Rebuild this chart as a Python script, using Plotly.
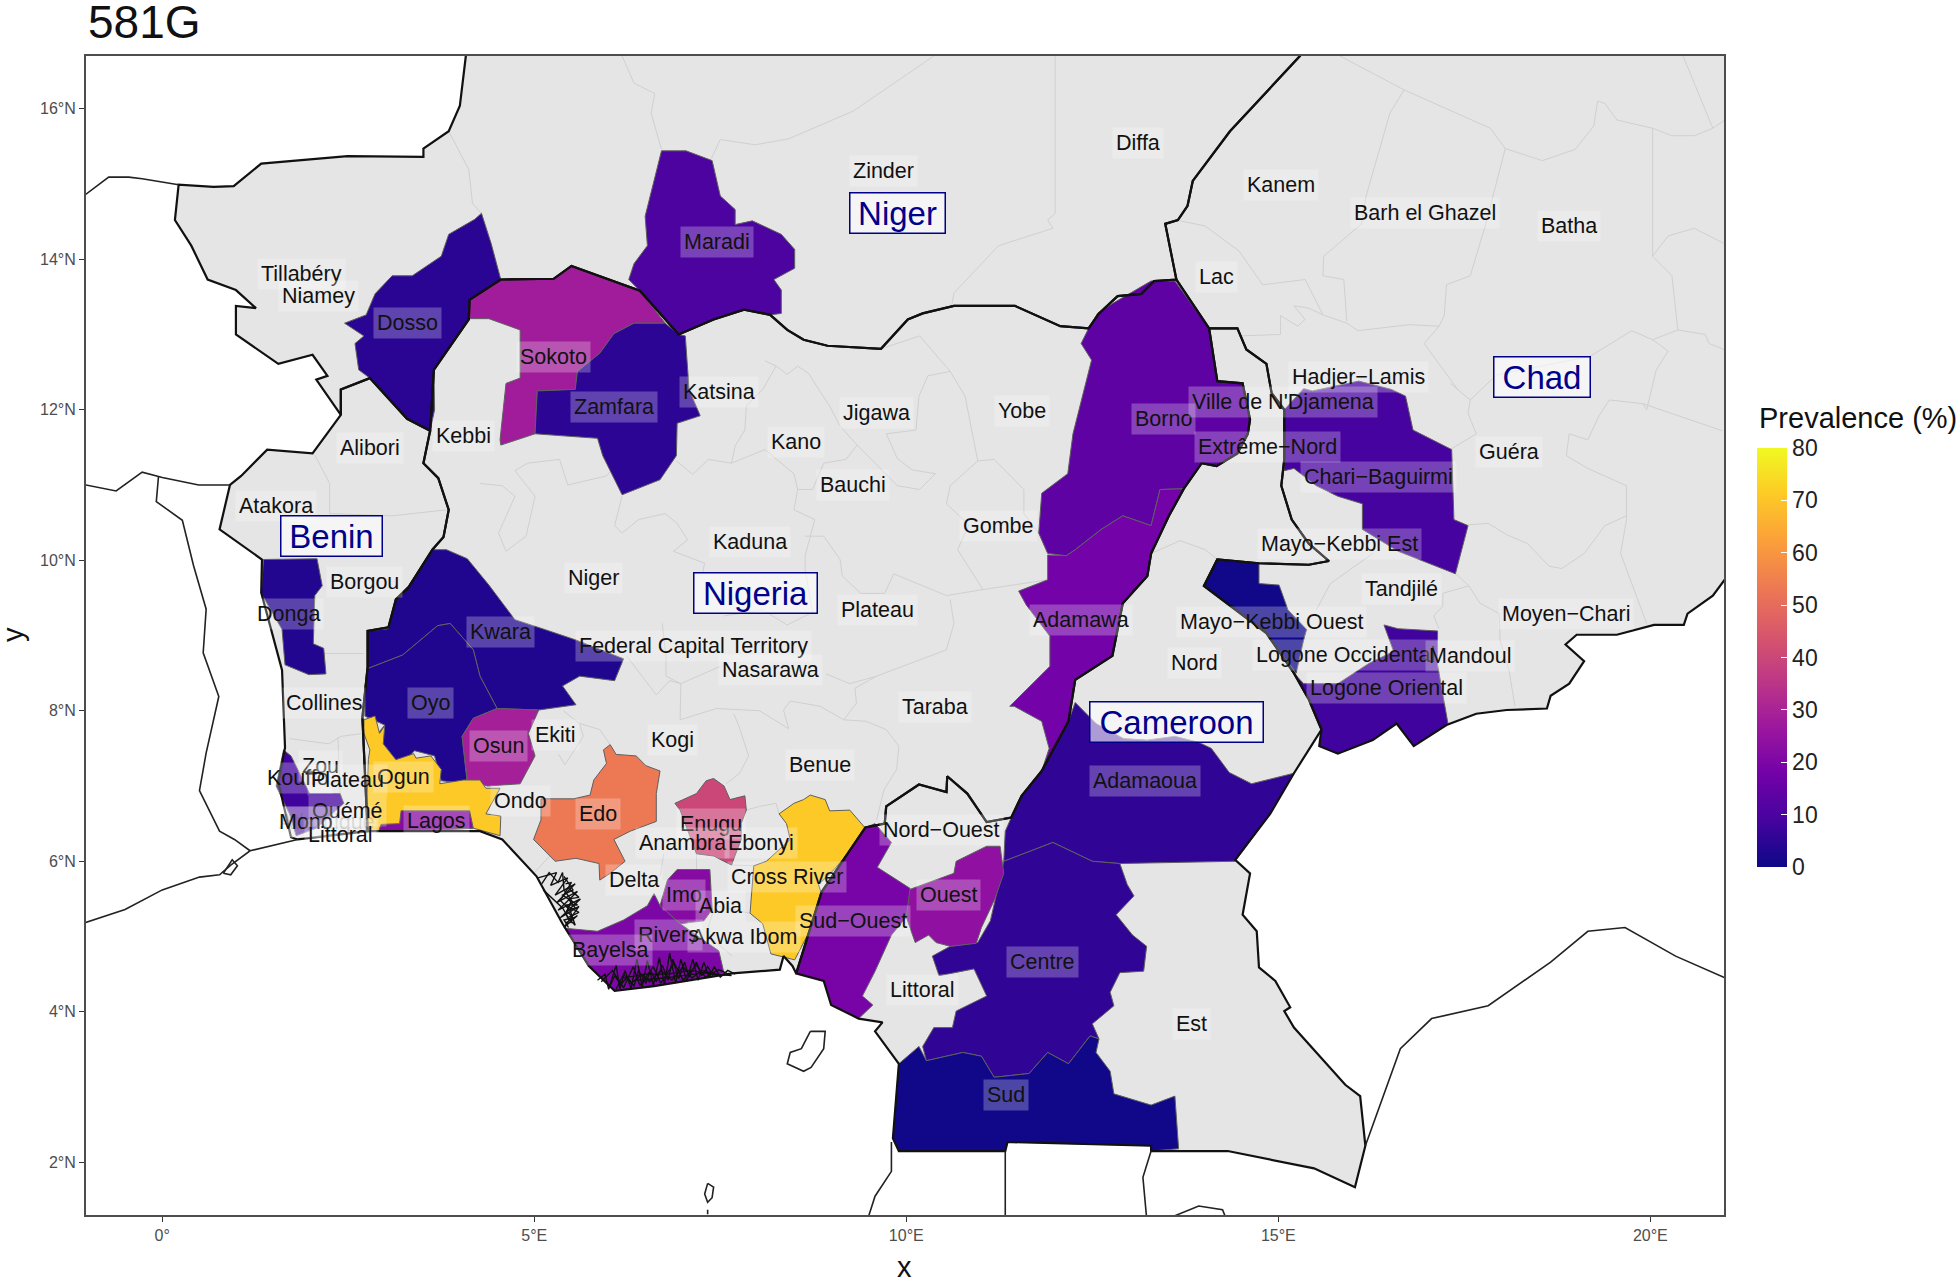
import plotly.graph_objects as go
from plotly.colors import sample_colorscale

# ---------- shared country borders (lon, lat) ----------
NIGER_NIGERIA_BORDER = [(3.60,11.72),(3.65,12.53),(4.12,13.20),(4.13,13.46),(4.55,13.73),(5.26,13.74),(5.50,13.91),(6.18,13.66),(6.42,13.58),(6.94,13.00),(7.41,13.20),(7.82,13.33),(8.17,13.26),(8.40,13.06),(8.62,12.93),(8.94,12.85),(9.66,12.81),(10.02,13.20),(10.22,13.28),(10.64,13.38),(11.46,13.38),(12.07,13.11),(12.45,13.08),(12.59,13.28),(12.84,13.51),(13.16,13.54),(13.33,13.71),(13.63,13.73)]
NIGER_WEST = [(4.15,17.0),(4.08,16.70),(4.00,16.04),(3.85,15.70),(3.51,15.47),(3.51,15.36),(2.49,15.37),(1.33,15.27),(0.96,14.97),(0.69,14.96),(0.22,14.99),(0.17,14.52),(0.39,14.18),(0.61,13.73),(0.99,13.59),(1.26,13.35),(0.99,13.38),(0.99,13.00),(1.56,12.61),(2.02,12.73),(2.22,12.45),(2.07,12.40),(2.40,11.93),(2.40,12.27),(2.79,12.42),(3.29,11.88)]
NIGER_CHAD_BORDER = [(13.63,13.73),(13.48,14.47),(13.65,14.52),(13.78,14.71),(13.85,15.04),(14.35,15.70),(15.29,16.70),(15.50,17.0)]
NIGERIA_CAMEROON_BORDER = [(14.07,13.08),(14.18,12.38),(14.52,12.35),(14.62,11.87),(14.59,11.68),(14.45,11.42),(14.17,11.25),(13.97,11.29),(13.73,10.95),(13.53,10.59),(13.29,10.09),(13.24,9.79),(12.91,9.43),(12.77,8.73),(12.27,8.41),(12.18,7.86),(11.82,7.20),(11.55,6.87),(11.41,6.58),(11.08,6.52),(10.82,6.90),(10.55,7.13),(10.54,6.92),(10.17,7.02),(9.73,6.73),(9.71,6.50),(9.45,6.45),(8.86,5.59),(8.52,4.51)]
NIGERIA_COAST = [(8.47,4.61),(8.35,4.74),(8.30,4.56),(7.66,4.51),(6.61,4.34),(6.08,4.28),(5.73,4.61),(5.38,5.17),(5.03,5.80),(4.57,6.29),(4.27,6.40),(2.76,6.40)]
BENIN_NIGERIA_BORDER = [(2.76,6.40),(2.69,7.91),(2.76,8.58),(2.76,9.06),(3.04,9.11),(3.14,9.48),(3.31,9.64),(3.63,10.14),(3.78,10.31),(3.85,10.67),(3.71,11.09),(3.51,11.29),(3.60,11.72)]
BENIN_WEST = [(1.82,6.29),(1.73,6.32),(1.56,7.05),(1.65,7.51),(1.61,8.54),(1.33,9.57),(1.34,10.01),(0.77,10.41),(0.91,11.00),(1.06,11.12),(1.41,11.47),(2.02,11.42),(2.40,11.93),(2.40,12.27),(2.79,12.42),(3.29,11.88),(3.60,11.72)]
CAMEROON_CHAD_BORDER = [(14.07,13.08),(14.45,13.08),(14.57,12.80),(14.84,12.61),(14.91,12.22),(15.08,12.00),(15.08,11.34),(15.04,10.99),(15.18,10.54),(15.41,10.22),(15.68,9.99),(15.41,9.94),(14.74,9.96),(14.18,10.01),(14.00,9.66),(14.84,9.03),(15.21,8.50),(15.41,8.15),(15.58,7.75)]
CAMEROON_SOUTH = [(15.21,7.17),(14.89,6.63),(14.42,6.02),(14.62,5.84),(14.52,5.29),(14.71,5.07),(14.74,4.59),(14.96,4.41),(15.16,4.06),(15.08,4.01),(15.21,3.79),(15.90,3.03),(16.10,2.88),(16.17,2.22),(16.03,1.67),(15.48,1.92),(14.84,2.05),(14.32,2.15),(13.29,2.15),(13.29,2.22),(11.36,2.27),(11.33,2.15),(9.90,2.15),(9.82,2.32),(9.90,3.31),(9.58,3.74),(9.68,3.86),(9.36,3.91),(8.99,4.09),(8.89,4.41),(8.52,4.51)]
CHAD_SOUTH = [(15.55,7.53),(15.80,7.43),(16.27,7.61),(16.59,7.83),(16.82,7.53),(17.26,7.81),(17.66,7.96),(18.07,8.01),(18.61,8.03),(18.66,8.20),(18.91,8.36),(19.11,8.66),(18.86,8.88),(19.01,9.01),(19.55,9.01),(20.05,9.14),(20.45,9.14),(20.50,9.29),(20.84,9.53),(21.05,9.81),(21.5,9.81),(21.5,17.0)]

# ---------- other countries' borders, lines only ----------
OTHER_BORDERS = {
    "mali_burkina": [(-1.30,14.60),(-1.03,14.86),(-0.72,15.09),(-0.45,15.09),(-0.27,15.07),(0.22,14.99)],
    "burkina_south": [(-1.30,11.00),(-1.03,11.00),(-0.62,10.92),(-0.27,11.17),(0.00,11.10),(0.49,11.00),(0.91,11.00)],
    "togo_ghana": [(-0.05,11.12),(-0.08,10.78),(0.27,10.53),(0.42,9.93),(0.59,9.35),(0.55,8.77),(0.76,8.19),(0.59,7.44),(0.50,6.94),(0.77,6.40),(0.97,6.29),(1.18,6.14)],
    "west_coast": [(-1.30,5.10),(-1.03,5.19),(-0.50,5.36),(0.00,5.62),(0.50,5.79),(0.77,5.82),(0.92,5.95),(1.18,6.14),(1.82,6.29)],
    "volta": [(0.82,5.84),(0.94,6.02),(1.01,5.94),(0.92,5.82),(0.82,5.84)],
    "eq_guinea": [(9.80,2.27),(9.80,1.88),(9.58,1.55),(9.45,1.15)],
    "gabon_north": [(11.33,2.15),(11.33,1.15)],
    "gabon_congo": [(13.29,2.15),(13.18,1.80),(13.24,1.15)],
    "congo_bit": [(13.61,1.20),(13.61,1.29),(13.93,1.42),(14.25,1.37),(14.32,1.20)],
    "car_congo": [(16.17,2.22),(16.64,3.51),(17.06,3.91),(17.82,4.08),(18.66,4.66),(19.16,5.07),(19.66,5.12),(20.34,4.74),(21.10,4.41)],
    "bioko": [(8.71,3.74),(8.91,3.74),(8.89,3.51),(8.72,3.26),(8.62,3.21),(8.40,3.31),(8.44,3.46),(8.59,3.51),(8.71,3.74)],
    "principe": [(7.33,1.72),(7.41,1.67),(7.39,1.53),(7.33,1.47),(7.29,1.58),(7.33,1.72)],
    "rock": [(7.33,1.37),(7.33,1.31)],
}
DELTA_CREEKS = {
    "west_a": [(5.05,5.78),(5.3,5.85),(5.22,5.68),(5.45,5.78),(5.28,5.55),(5.55,5.7),(5.3,5.45),(5.58,5.6),(5.32,5.35),(5.62,5.5),(5.35,5.25),(5.6,5.4),(5.4,5.12),(5.58,5.28),(5.42,5.18)],
    "west_b": [(5.1,5.7),(5.2,5.85),(5.32,5.72),(5.38,5.85),(5.4,5.62),(5.5,5.48),(5.42,5.3),(5.5,5.18),(5.38,5.38),(5.25,5.5),(5.12,5.62)],
    "west_c": [(5.4,5.8),(5.52,5.62),(5.38,5.55),(5.58,5.42),(5.42,5.42),(5.6,5.32),(5.45,5.25),(5.55,5.15),(5.48,5.35),(5.35,5.48),(5.5,5.72),(5.42,5.7)],
    "west_d": [(5.45,5.65),(5.6,5.52),(5.46,5.5),(5.55,5.38),(5.44,5.34),(5.52,5.25),(5.4,5.22),(5.46,5.12)],
    "south_a": [(5.85,4.42),(5.95,4.5),(6.0,4.3),(6.1,4.62),(6.15,4.3),(6.22,4.55),(6.3,4.31),(6.38,4.7),(6.45,4.33),(6.52,4.68),(6.6,4.35),(6.68,4.72),(6.75,4.36),(6.82,4.78),(6.9,4.38),(6.97,4.7),(7.05,4.4),(7.13,4.7),(7.2,4.42),(7.28,4.66),(7.35,4.46),(7.42,4.6),(7.5,4.46),(7.6,4.55),(7.7,4.5)],
    "south_b": [(5.9,4.4),(6.05,4.55),(6.2,4.32),(6.33,4.6),(6.42,4.35),(6.6,4.6),(6.7,4.38),(6.88,4.65),(7.0,4.42),(7.18,4.62),(7.3,4.46),(7.48,4.56),(7.65,4.48),(7.4,4.5),(7.1,4.55),(6.8,4.5),(6.5,4.5),(6.2,4.45)],
    "south_c": [(6.02,4.35),(6.08,4.48),(6.16,4.36),(6.25,4.46),(6.34,4.34),(6.4,4.55),(6.5,4.38),(6.56,4.55),(6.64,4.4),(6.72,4.62),(6.8,4.42),(6.86,4.7),(6.94,4.44),(7.02,4.66),(7.08,4.46),(7.18,4.66),(7.25,4.48),(7.33,4.6),(7.4,4.48)],
    "south_d": [(6.1,4.3),(6.2,4.5),(6.3,4.38),(6.45,4.5),(6.55,4.4),(6.7,4.55),(6.85,4.42),(7.0,4.6),(7.12,4.45),(7.25,4.55),(7.45,4.5),(7.3,4.52),(7.0,4.48),(6.75,4.45),(6.35,4.42)],
}

# ---------- internal administrative boundaries ----------
ADMIN_LINES = [
    [(3.85,15.70),(4.12,15.19),(4.17,14.74),(4.29,14.61)],
    [(6.18,16.70),(6.34,16.34),(6.62,16.20),(6.57,15.94),(6.71,15.46)],
    [(10.37,16.70),(9.29,15.97),(8.42,15.60),(7.97,15.52),(7.50,15.59),(7.38,15.34)],
    [(12.00,16.70),(12.00,14.61),(11.90,14.52),(11.97,14.41),(11.24,14.18),(10.64,13.55),(10.61,13.38)],
    [(15.83,16.70),(16.69,16.25),(17.85,15.74),(18.05,15.47),(18.55,15.31),(18.99,15.46),(19.24,15.77),(19.29,16.10),(19.39,16.07),(19.55,15.85),(20.03,15.74),(20.29,15.64),(20.59,15.64),(20.84,15.74),(21.0,15.85)],
    [(20.84,15.74),(20.44,16.70)],
    [(16.69,16.25),(16.50,15.94),(16.18,14.84),(16.12,14.47),(15.61,14.04),(15.60,13.78),(15.88,13.73),(15.92,13.18)],
    [(18.05,15.47),(17.78,14.44),(17.58,13.78),(17.26,13.66),(17.23,13.25),(17.16,13.11),(16.96,12.88),(17.16,12.61),(17.41,12.27)],
    [(13.68,14.51),(14.02,14.44),(14.47,14.11),(14.79,13.66),(15.36,13.73),(15.60,13.26),(15.92,13.15),(16.07,13.05),(16.76,13.13),(17.16,13.11)],
    [(14.47,12.98),(15.03,13.00),(15.03,13.25),(15.26,13.11),(15.36,13.20),(15.21,13.38),(15.41,13.35),(15.60,13.26)],
    [(20.03,15.74),(20.03,14.04),(20.29,13.78),(20.37,13.06),(20.03,12.93),(19.75,13.05),(19.19,12.71),(17.93,12.46),(17.58,12.13)],
    [(20.03,14.04),(20.24,14.31),(20.59,14.41),(20.99,14.21)],
    [(20.37,13.06),(20.74,13.00),(20.79,12.88),(20.99,12.80)],
    [(20.03,12.93),(20.24,12.78),(20.08,12.53),(19.95,12.00),(19.90,12.08)],
    [(19.90,12.08),(20.97,11.72)],
    [(19.90,12.08),(19.45,12.13),(19.31,11.92),(19.16,11.60),(18.91,11.68),(18.87,11.39),(19.16,11.22),(19.68,10.99),(19.68,10.54),(19.60,10.09),(19.95,9.16)],
    [(17.55,10.47),(17.82,10.49),(18.07,10.34),(18.35,10.22),(18.64,9.92),(18.81,9.89),(19.11,10.09),(19.39,10.46),(19.68,10.59)],
    [(17.31,11.47),(17.66,11.68),(17.55,11.95),(17.58,12.13),(17.31,12.35)],
    [(17.39,9.82),(17.56,9.66),(17.21,9.56),(17.21,9.39),(17.09,9.26),(17.16,9.09)],
    [(17.56,9.66),(17.71,9.43),(17.97,9.29),(17.98,8.94),(18.10,8.54),(18.18,8.06)],
    [(16.27,10.09),(15.70,9.69),(15.51,9.34)],
    [(13.29,10.09),(13.68,10.26),(14.02,10.14),(14.18,10.01)],
    [(2.05,11.40),(2.25,11.02),(2.25,10.62),(3.09,10.59),(3.82,10.67)],
    [(2.17,8.76),(2.71,8.76)],
    [(1.71,7.63),(2.24,7.56),(2.40,7.66),(2.71,7.70)],
    [(2.36,7.65),(2.39,6.90)],
    [(4.74,11.19),(4.91,11.29),(5.34,11.34),(5.45,11.00),(5.97,11.12),(6.04,11.20)],
    [(4.27,11.02),(4.57,10.99),(4.74,10.85),(4.52,10.36),(4.62,10.12),(4.89,10.32),(5.01,10.85),(4.74,11.19)],
    [(6.18,10.85),(6.08,10.46),(6.18,10.36),(6.40,10.54),(6.76,10.62),(6.92,10.49),(7.06,10.27),(6.87,10.12),(7.29,9.96),(7.26,9.82)],
    [(6.91,11.32),(7.13,11.14),(7.34,11.34),(7.65,11.29),(8.10,11.47),(8.49,11.15),(8.54,10.94),(8.49,10.67),(8.77,10.54),(8.64,10.06),(8.64,9.87)],
    [(8.10,12.65),(8.25,12.58),(8.07,12.27),(7.85,12.05),(7.83,11.73),(7.70,11.52),(7.65,11.29)],
    [(8.25,12.58),(8.40,12.47),(8.54,12.58),(8.69,12.48),(8.79,12.32),(8.97,12.05),(9.11,11.78),(9.34,11.53),(9.19,11.34),(8.89,11.29),(8.74,10.94),(8.54,10.94)],
    [(9.66,12.81),(10.18,12.98),(10.59,12.51),(10.29,12.45),(10.17,12.18),(10.13,11.73),(9.73,11.68),(9.88,11.35),(10.08,11.20),(10.39,11.15),(10.18,10.94),(9.88,10.99),(9.34,11.53)],
    [(10.59,12.51),(10.79,12.18),(10.96,11.32),(10.59,10.99),(10.54,10.75),(10.84,10.47),(10.69,10.14),(11.03,9.61),(10.54,9.53),(9.83,9.82),(9.71,9.56),(9.39,9.56),(9.14,9.79),(9.11,10.01),(8.89,10.32),(8.64,10.32)],
    [(10.96,11.32),(11.18,11.34),(11.58,10.94),(11.58,10.62),(11.78,10.36)],
    [(11.03,9.61),(11.90,9.74)],
    [(10.59,9.48),(10.64,9.16),(10.54,8.81),(9.60,8.46),(9.31,8.30),(9.33,8.10),(9.16,7.88),(9.46,7.86),(9.73,7.75),(9.90,7.53),(9.87,7.22),(9.70,6.95),(9.60,6.55)],
    [(8.92,8.49),(9.24,8.36),(9.60,8.46)],
    [(9.16,7.88),(8.84,8.06),(8.44,8.13),(8.35,8.01),(8.42,7.76),(8.03,8.00),(7.45,8.03),(6.96,7.88),(6.97,8.36),(7.50,8.59)],
    [(7.68,7.96),(7.75,7.80),(7.88,7.40),(7.76,7.17),(7.58,7.03)],
    [(6.24,8.73),(6.42,8.49),(6.64,8.21),(6.82,8.40),(6.97,8.36)],
    [(6.72,9.16),(6.77,8.73),(6.77,8.46),(6.97,8.36)],
    [(7.55,9.26),(8.07,9.34),(8.40,9.14),(8.74,9.31),(8.64,9.87)],
    [(5.39,8.00),(5.61,7.83),(5.88,7.75),(6.02,7.55)],
    [(5.33,7.42),(5.41,7.28),(5.66,7.66),(5.61,7.83)],
    [(5.21,6.07),(4.99,5.84)],
    [(6.74,6.10),(6.69,5.80)],
    [(7.18,6.10),(7.18,5.89)],
    [(7.85,6.68),(8.03,6.73),(8.25,6.77),(8.29,6.63)],
    [(7.90,5.31),(7.43,5.41),(7.31,5.04),(7.66,4.74)],
    [(7.95,5.94),(7.65,5.95)],
]

# ---------- regions with a prevalence ----------
MARADI = [(6.71,15.44),(7.04,15.44),(7.39,15.31),(7.50,14.84),(7.70,14.66),(7.70,14.46),(7.93,14.51),(8.32,14.33),(8.50,14.13),(8.50,13.88),(8.22,13.73),(8.32,13.59),(8.32,13.28),(8.17,13.26),(7.82,13.33),(7.41,13.20),(6.94,13.00),(6.42,13.58),(6.27,13.73),(6.34,13.94),(6.52,14.18),(6.49,14.57)]
DOSSO = [(4.29,14.61),(4.42,14.21),(4.55,13.73),(4.13,13.46),(4.12,13.20),(3.65,12.53),(3.66,12.00),(3.60,11.72),(3.29,11.88),(2.79,12.42),(2.64,12.53),(2.59,12.88),(2.71,12.98),(2.45,13.15),(2.74,13.26),(2.86,13.54),(3.09,13.78),(3.36,13.78),(3.75,14.04),(3.85,14.33),(4.20,14.53)]
SOKOTO = [(4.13,13.46),(4.55,13.73),(5.26,13.74),(5.50,13.91),(6.18,13.66),(6.42,13.58),(6.76,13.15),(6.34,13.15),(6.07,13.01),(5.88,12.75),(5.58,12.51),(5.55,12.27),(5.04,12.25),(5.01,11.68),(4.55,11.53),(4.54,11.60),(4.62,12.35),(4.81,12.42),(4.81,13.06),(4.39,13.21),(4.13,13.21)]
ZAMFARA = [(6.76,13.15),(6.94,13.00),(7.03,12.98),(7.08,12.27),(7.23,11.92),(6.92,11.82),(6.91,11.39),(6.69,11.07),(6.18,10.87),(5.92,11.39),(5.85,11.62),(5.43,11.65),(5.01,11.68),(5.04,12.25),(5.55,12.27),(5.58,12.51),(5.88,12.75),(6.07,13.01),(6.34,13.15)]
KWARA = [(3.82,10.14),(4.10,10.02),(4.39,9.67),(4.74,9.21),(5.14,9.08),(5.56,8.94),(6.20,8.69),(6.08,8.40),(5.61,8.46),(5.38,8.33),(5.56,8.08),(5.06,8.01),(4.50,8.03),(4.27,8.46),(4.18,8.81),(3.87,9.16),(3.70,9.13),(3.23,8.74),(2.76,8.56),(2.76,9.06),(3.04,9.09),(3.14,9.48),(3.31,9.66),(3.63,10.14)]
OYO = [(2.76,8.56),(3.23,8.74),(3.70,9.13),(3.87,9.16),(4.18,8.81),(4.27,8.46),(4.50,8.03),(4.18,7.90),(4.03,7.66),(4.10,7.03),(3.75,7.07),(3.66,7.40),(3.39,7.47),(3.28,7.35),(3.03,7.35),(2.87,7.66),(2.99,7.81),(2.72,7.93),(2.72,8.28)]
OSUN = [(5.06,8.01),(4.92,7.70),(5.01,7.40),(4.86,7.13),(4.81,7.03),(4.37,7.00),(4.10,7.08),(4.03,7.66),(4.18,7.90),(4.50,8.03)]
OGUN = [(2.71,7.88),(2.86,7.93),(2.92,7.70),(2.99,7.80),(2.97,7.56),(3.14,7.35),(3.38,7.43),(3.41,7.37),(3.61,7.40),(3.75,7.22),(3.73,7.03),(4.05,7.08),(4.27,7.08),(4.35,6.97),(4.54,6.97),(4.35,6.63),(4.55,6.60),(4.54,6.34),(4.18,6.44),(3.68,6.42),(3.38,6.40),(2.74,6.40),(2.77,7.35),(2.79,7.48),(2.71,7.70)]
LAGOS = [(2.94,6.49),(3.19,6.50),(3.21,6.67),(4.13,6.67),(4.18,6.44),(3.68,6.42),(2.91,6.40)]
DONGA = [(1.36,10.01),(2.08,10.02),(2.15,9.66),(2.05,9.53),(2.03,8.89),(2.17,8.83),(2.20,8.49),(1.97,8.48),(1.65,8.61),(1.61,9.08),(1.33,9.56)]
SOUTH_BENIN = [(1.63,7.48),(1.73,7.40),(1.98,6.90),(2.39,6.90),(2.44,6.77),(2.07,6.44),(1.80,6.34),(1.71,6.63),(1.53,7.00)]
EDO = [(6.02,7.55),(6.10,7.42),(6.37,7.40),(6.50,7.27),(6.69,7.20),(6.64,6.90),(6.64,6.53),(6.29,6.40),(6.07,6.29),(6.22,6.00),(6.02,5.84),(5.88,5.75),(5.87,5.97),(5.56,6.04),(5.28,6.00),(5.21,6.07),(4.99,6.29),(5.09,6.55),(5.09,6.83),(5.53,6.83),(5.75,6.88),(5.80,7.08),(5.97,7.30),(5.93,7.48)]
ENUGU = [(7.41,7.10),(7.55,7.00),(7.63,6.82),(7.83,6.87),(7.85,6.68),(7.78,6.50),(7.78,6.29),(7.71,6.10),(7.65,5.95),(7.41,6.07),(7.18,6.10),(6.96,6.68),(6.89,6.77),(7.18,6.90),(7.31,7.07)]
CROSS_RIVER = [(8.71,6.88),(8.91,6.82),(8.97,6.67),(9.24,6.68),(9.45,6.44),(9.38,6.30),(9.03,5.89),(8.82,5.69),(8.86,5.57),(8.71,5.09),(8.50,4.69),(8.18,4.77),(8.07,5.17),(7.90,5.31),(7.95,5.94),(8.12,6.00),(8.44,6.29),(8.39,6.50),(8.29,6.63),(8.49,6.77),(8.62,6.82)]
IMO = [(6.92,5.89),(7.36,5.89),(7.39,5.36),(7.28,5.21),(6.96,5.17),(6.69,5.41),(6.79,5.75)]
RIVERS = [(5.41,5.11),(5.85,5.07),(6.20,5.22),(6.52,5.41),(6.61,5.57),(6.69,5.41),(6.96,5.17),(7.48,4.81),(7.55,4.51),(6.61,4.34),(6.08,4.28),(5.73,4.61)]
BORNO = [(12.45,13.08),(12.57,13.28),(12.77,13.41),(13.29,13.71),(13.61,13.71),(14.07,13.08),(14.18,12.38),(14.52,12.35),(14.62,11.87),(14.59,11.68),(14.45,11.42),(14.17,11.25),(13.97,11.29),(13.73,10.95),(13.41,10.94),(13.29,10.46),(12.91,10.59),(12.62,10.41),(12.27,10.14),(12.15,10.06),(11.90,10.09),(11.78,10.36),(11.82,10.89),(12.17,11.15),(12.24,11.68),(12.49,12.66),(12.35,12.88)]
ADAMAWA = [(13.41,10.94),(13.73,10.95),(13.53,10.59),(13.29,10.09),(13.24,9.79),(12.91,9.43),(12.77,8.73),(12.27,8.41),(12.18,7.86),(11.82,7.20),(11.92,7.50),(11.82,7.86),(11.45,8.06),(11.39,8.06),(11.93,8.59),(11.93,8.99),(11.61,9.41),(11.51,9.59),(11.90,9.74),(11.90,10.07),(12.15,10.06),(12.27,10.14),(12.62,10.41),(12.91,10.59),(13.29,10.46)]
ADAMAOUA = [(12.27,8.11),(12.55,7.83),(12.92,7.63),(13.24,7.61),(13.61,7.66),(13.93,7.58),(14.10,7.50),(14.34,7.18),(14.64,7.03),(15.21,7.17),(14.89,6.63),(14.42,6.00),(12.87,5.97),(12.50,6.00),(11.97,6.25),(11.31,6.00),(11.33,6.40),(11.41,6.58),(11.55,6.87),(11.82,7.20),(12.18,7.86)]
CENTRE = [(11.31,6.00),(11.97,6.25),(12.50,6.00),(12.87,5.97),(12.97,5.69),(13.06,5.54),(12.82,5.29),(13.04,5.02),(13.23,4.87),(13.19,4.54),(12.87,4.52),(12.74,4.26),(12.79,4.08),(12.50,3.84),(12.59,3.64),(12.47,3.68),(12.18,3.31),(11.90,3.46),(11.65,3.18),(11.18,3.13),(11.01,3.41),(10.76,3.46),(10.27,3.35),(10.22,3.54),(10.37,3.79),(10.62,3.79),(10.67,4.01),(11.08,4.21),(10.91,4.57),(10.44,4.48),(10.35,4.74),(10.59,4.87),(10.96,4.92),(11.13,5.21),(11.23,5.64)]
SUD = [(10.27,3.35),(10.76,3.46),(11.01,3.41),(11.18,3.13),(11.65,3.18),(11.90,3.46),(12.18,3.31),(12.47,3.68),(12.59,3.64),(12.55,3.46),(12.74,3.21),(12.79,2.91),(13.29,2.76),(13.61,2.88),(13.66,2.18),(13.29,2.15),(13.29,2.22),(11.36,2.27),(11.33,2.15),(9.90,2.15),(9.82,2.32),(9.90,3.31),(10.17,3.54)]
OUEST = [(11.26,6.20),(11.31,5.84),(11.19,5.50),(11.01,5.12),(10.94,4.91),(10.59,4.87),(10.40,4.92),(10.30,5.02),(10.12,4.92),(10.00,5.26),(10.03,5.62),(10.64,5.84),(10.67,6.00),(11.08,6.20)]
SUD_OUEST = [(9.58,6.50),(9.80,6.25),(9.61,5.92),(9.90,5.74),(10.05,5.64),(10.00,5.26),(9.80,5.02),(9.58,4.54),(9.41,4.21),(9.55,4.09),(9.36,3.91),(8.99,4.09),(8.89,4.41),(8.52,4.51),(8.86,5.59),(9.45,6.45)]
CHARI_BAGUIRMI = [(15.08,12.00),(15.34,12.28),(15.46,12.25),(16.08,12.38),(16.52,12.27),(16.71,12.18),(16.81,11.73),(17.33,11.47),(17.36,10.54),(17.55,10.46),(17.38,9.82),(16.94,9.99),(16.61,10.12),(16.13,10.41),(16.13,10.75),(15.80,10.85),(15.51,10.99),(15.21,11.22),(15.08,11.19)]
MAYO_KEBBI_OUEST = [(14.17,10.01),(14.74,9.96),(14.74,9.69),(15.01,9.67),(15.13,9.34),(15.38,9.08),(15.34,8.94),(15.24,8.50),(14.84,9.03),(14.00,9.66)]
LOGONE_ORIENTAL = [(15.34,8.36),(15.80,8.36),(16.22,8.63),(16.55,8.79),(16.42,9.14),(16.61,9.09),(17.14,9.06),(17.14,8.61),(17.28,7.83),(16.82,7.53),(16.59,7.83),(16.27,7.61),(15.80,7.43),(15.55,7.53),(15.58,7.75),(15.41,8.15),(15.21,8.50)]

REGIONS = [DONGA, SOUTH_BENIN, DOSSO, MARADI, SOKOTO, ZAMFARA, KWARA, OYO, OSUN, OGUN, LAGOS, EDO, ENUGU, CROSS_RIVER, IMO, RIVERS, BORNO, ADAMAWA, ADAMAOUA, CENTRE, SUD, OUEST, SUD_OUEST, CHARI_BAGUIRMI, MAYO_KEBBI_OUEST, LOGONE_ORIENTAL]
PREVALENCE = [3.5, 8, 4.5, 10, 28, 5, 3, 3, 29, 71, 22, 53, 40, 71, 22, 20, 14, 18, 5.5, 5.5, 0.5, 24, 19, 9, 0.5, 8]

# ---------- labels ----------
REGION_LABELS = [("Tillabéry",1.87,13.81),("Niamey",2.10,13.51),("Dosso",3.29,13.15),("Maradi",7.46,14.23),("Zinder",9.70,15.17),("Diffa",13.11,15.54),("Kanem",15.04,14.99),("Barh el Ghazel",16.97,14.62),("Batha",18.91,14.44),("Lac",14.17,13.76),("Sokoto",5.26,12.70),("Zamfara",6.07,12.03),("Katsina",7.48,12.23),("Jigawa",9.60,11.95),("Yobe",11.55,11.98),("Kebbi",4.05,11.65),("Kano",8.52,11.57),("Alibori",2.79,11.49),("Bauchi",9.29,11.00),("Atakora",1.53,10.72),("Borno",13.45,11.88),("Ville de N'Djamena",15.06,12.10),("Extrême−Nord",14.86,11.50),("Hadjer−Lamis",16.08,12.43),("Chari−Baguirmi",16.35,11.10),("Guéra",18.10,11.44),("Mayo−Kebbi Est",15.82,10.21),("Kaduna",7.90,10.24),("Gombe",11.24,10.46),("Niger",5.80,9.76),("Tandjilé",16.66,9.62),("Borgou",2.72,9.71),("Donga",1.70,9.28),("Adamawa",12.35,9.21),("Plateau",9.61,9.34),("Moyen−Chari",18.86,9.29),("Mayo−Kebbi Ouest",14.91,9.18),("Kwara",4.55,9.04),("Federal Capital Territory",7.14,8.86),("Nasarawa",8.17,8.54),("Logone Occidental",15.90,8.74),("Mandoul",17.58,8.73),("Nord",13.87,8.64),("Logone Oriental",16.45,8.30),("Collines",2.17,8.10),("Oyo",3.61,8.10),("Taraba",10.39,8.05),("Ekiti",5.29,7.68),("Kogi",6.86,7.61),("Osun",4.52,7.53),("Benue",8.84,7.28),("Zou",2.12,7.27),("Ogun",3.24,7.12),("Kouffo",1.82,7.10),("Plateau",2.49,7.08),("Adamaoua",13.21,7.07),("Ondo",4.82,6.80),("Ouémé",2.49,6.67),("Edo",5.85,6.63),("Nord−Ouest",10.47,6.42),("Enugu",7.38,6.50),("Mono",1.93,6.52),("Lagos",3.68,6.53),("Littoral",2.40,6.35),("Anambra",6.99,6.24),("Ebonyi",8.05,6.24),("Delta",6.34,5.75),("Cross River",8.40,5.79),("Ouest",10.57,5.55),("Imo",7.01,5.55),("Abia",7.50,5.41),("Sud−Ouest",9.28,5.21),("Akwa Ibom",7.82,4.99),("Rivers",6.81,5.02),("Bayelsa",6.02,4.82),("Centre",11.83,4.66),("Littoral",10.22,4.29),("Est",13.83,3.84),("Sud",11.34,2.90)]
FAINT_LABELS = [("Atlantique",2.22,6.52)]
COUNTRY_LABELS = [("Niger",9.88,14.61,94),("Chad",18.55,12.43,95),("Benin",2.27,10.32,100),("Nigeria",7.97,9.57,122),("Cameroon",13.63,7.85,172)]
X_TICKS = [0, 5, 10, 15, 20]
X_TICK_TEXT = ["0°", "5°E", "10°E", "15°E", "20°E"]
Y_TICKS = [2, 4, 6, 8, 10, 12, 14, 16]
Y_TICK_TEXT = ["2°N", "4°N", "6°N", "8°N", "10°N", "12°N", "14°N", "16°N"]
CBAR_TICKS = [0, 10, 20, 30, 40, 50, 60, 70, 80]

FONT = "Liberation Sans, Arial, sans-serif"
GREY = "#e5e5e5"
BLACK = "#111111"

def poly(points, **kw):
    xs = [p[0] for p in points]
    ys = [p[1] for p in points]
    return go.Scatter(x=xs, y=ys, mode="lines", hoverinfo="skip", showlegend=False, **kw)

niger = NIGER_WEST + NIGER_NIGERIA_BORDER + NIGER_CHAD_BORDER
nigeria = NIGER_NIGERIA_BORDER + NIGERIA_CAMEROON_BORDER + NIGERIA_COAST + BENIN_NIGERIA_BORDER
benin = BENIN_WEST + BENIN_NIGERIA_BORDER[::-1] + [(1.82,6.29)]
cameroon = CAMEROON_CHAD_BORDER + CAMEROON_SOUTH + NIGERIA_CAMEROON_BORDER[::-1]
chad = NIGER_CHAD_BORDER[::-1] + [(14.07,13.08)] + CAMEROON_CHAD_BORDER[1:] + CHAD_SOUTH
COUNTRIES = [niger, nigeria, benin, cameroon, chad]

fig = go.Figure()
for c in COUNTRIES:
    fig.add_trace(poly(c + c[:1], fill="toself", fillcolor=GREY, line=dict(width=0, color=GREY)))
for seg in ADMIN_LINES:
    fig.add_trace(poly(seg, line=dict(color="#d0d0d0", width=1)))
for region, value in zip(REGIONS, PREVALENCE):
    colour = sample_colorscale("Plasma", value / 80)[0]
    fig.add_trace(poly(region + region[:1], fill="toself", fillcolor=colour, line=dict(color="#5f5f5f", width=1)))
for seg in DELTA_CREEKS.values():
    fig.add_trace(poly(seg, line=dict(color=BLACK, width=1.4)))
for c in COUNTRIES:
    fig.add_trace(poly(c + c[:1], line=dict(color=BLACK, width=2.2)))
for seg in OTHER_BORDERS.values():
    fig.add_trace(poly(seg, line=dict(color="#222222", width=1.6)))

# colour bar carrier
fig.add_trace(go.Scatter(
    x=[None], y=[None], mode="markers", showlegend=False, hoverinfo="skip",
    marker=dict(
        color=[0], cmin=0, cmax=80, colorscale="Plasma", showscale=True,
        colorbar=dict(
            thicknessmode="pixels", thickness=30, lenmode="pixels", len=419,
            x=1.0201, xanchor="left", xpad=0, y=0.6618, yanchor="top", ypad=0,
            tickvals=CBAR_TICKS, ticks="inside", tickcolor="white", ticklen=6, tickwidth=1,
            tickprefix="\u00a0\u2009",
            tickfont=dict(family=FONT, size=23, color="#222222"),
            outlinewidth=0, borderwidth=0,
        ),
    ),
))

annotations = []
for text, lon, lat in FAINT_LABELS:
    annotations.append(dict(x=lon, y=lat, text=text, showarrow=False, xanchor="center", yanchor="middle",
                            font=dict(family=FONT, size=21.5, color="rgba(17,17,17,0.22)"),
                            bgcolor="rgba(255,255,255,0.25)", borderpad=3))
for text, lon, lat in REGION_LABELS:
    annotations.append(dict(x=lon, y=lat, text=text, showarrow=False, xanchor="center", yanchor="middle",
                            font=dict(family=FONT, size=21.5, color="#111111"),
                            bgcolor="rgba(255,255,255,0.25)", borderpad=3))
for text, lon, lat, w in COUNTRY_LABELS:
    annotations.append(dict(x=lon, y=lat, text=text, showarrow=False, xanchor="center", yanchor="middle",
                            font=dict(family=FONT, size=33, color="#00008b"), width=w, height=39,
                            bgcolor="rgba(255,255,255,0.6)", bordercolor="#00008b", borderwidth=1.5, borderpad=0))
annotations.append(dict(xref="paper", yref="paper", x=1.0201, y=0.6877, text="Prevalence (%)", showarrow=False,
                        xanchor="left", yanchor="middle", font=dict(family=FONT, size=29, color="#111111")))
# axis titles, placed as text so that they leave the panel margins alone
annotations.append(dict(xref="paper", yref="paper", x=0.4995, y=-0.0449, text="x", showarrow=False,
                        xanchor="center", yanchor="middle", font=dict(family=FONT, size=29, color="#111111")))
annotations.append(dict(xref="paper", yref="paper", x=-0.0450, y=0.5007, text="y", showarrow=False, textangle=-90,
                        xanchor="center", yanchor="middle", font=dict(family=FONT, size=29, color="#111111")))

fig.update_layout(
    width=1960, height=1280,
    margin=dict(l=86, r=236, t=56, b=65, pad=0),
    paper_bgcolor="white", plot_bgcolor="white",
    title=dict(text="581G", x=88 / 1960, xanchor="left", xref="container", y=1 - 22 / 1280, yanchor="middle",
               font=dict(family=FONT, size=46, color="#111111")),
    annotations=annotations,
    xaxis=dict(range=[-1.025, 20.99], tickvals=X_TICKS, ticktext=X_TICK_TEXT, showgrid=False, zeroline=False,
               ticks="outside", ticklen=5, tickcolor="#333333", tickfont=dict(family=FONT, size=16, color="#4d4d4d"),
               showline=True, mirror=True, linecolor="#4d4d4d", linewidth=2),
    yaxis=dict(range=[1.30, 16.70], tickvals=Y_TICKS, ticktext=Y_TICK_TEXT, showgrid=False, zeroline=False,
               ticks="outside", ticklen=5, tickcolor="#333333", tickfont=dict(family=FONT, size=16, color="#4d4d4d"),
               showline=True, mirror=True, linecolor="#4d4d4d", linewidth=2),
)

fig.write_html("out.html", post_script="document.body.style.margin='0';", config={"displayModeBar": False})
